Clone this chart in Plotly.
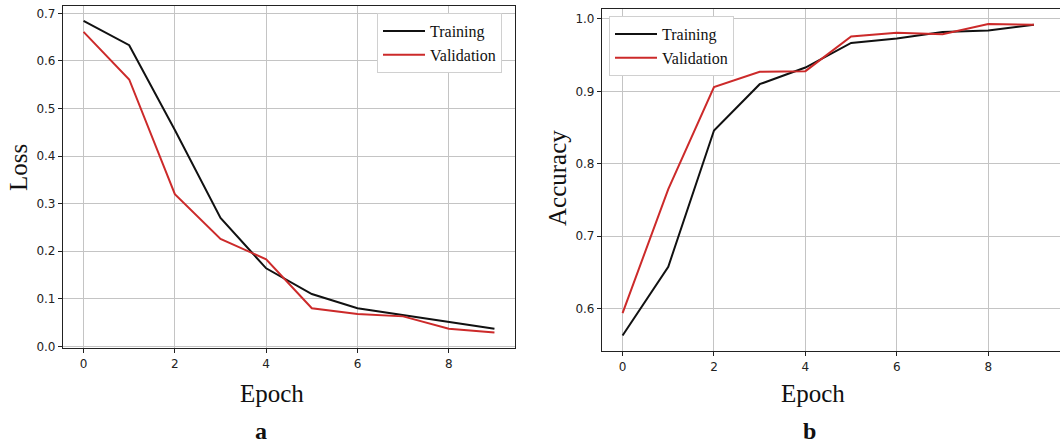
import plotly.graph_objects as go

epochs = [0, 1, 2, 3, 4, 5, 6, 7, 8, 9]
loss_train = [0.684, 0.633, 0.455, 0.270, 0.164, 0.110, 0.080, 0.066, 0.052, 0.037]
loss_val = [0.661, 0.561, 0.320, 0.226, 0.183, 0.080, 0.068, 0.063, 0.037, 0.029]
acc_train = [0.563, 0.658, 0.846, 0.910, 0.933, 0.967, 0.973, 0.982, 0.984, 0.992]
acc_val = [0.594, 0.765, 0.906, 0.927, 0.928, 0.976, 0.981, 0.979, 0.993, 0.992]
x_ticks = [0, 2, 4, 6, 8]

W, H = 1060, 447
BLACK = "#111111"
RED = "#cc2a2a"
GRID = "#c4c4c4"

def px(x):
    return x / W

def py(y):
    return 1 - y / H

fig = go.Figure()
fig.add_trace(go.Scatter(x=epochs, y=loss_train, mode="lines", name="Training",
                         line=dict(color=BLACK, width=2), xaxis="x", yaxis="y", legend="legend"))
fig.add_trace(go.Scatter(x=epochs, y=loss_val, mode="lines", name="Validation",
                         line=dict(color=RED, width=2), xaxis="x", yaxis="y", legend="legend"))
fig.add_trace(go.Scatter(x=epochs, y=acc_train, mode="lines", name="Training",
                         line=dict(color=BLACK, width=2), xaxis="x2", yaxis="y2", legend="legend2"))
fig.add_trace(go.Scatter(x=epochs, y=acc_val, mode="lines", name="Validation",
                         line=dict(color=RED, width=2), xaxis="x2", yaxis="y2", legend="legend2"))

tickfont = dict(family="DejaVu Sans", size=12, color="#222222")
common_x = dict(tickmode="array", tickvals=x_ticks, ticks="outside", ticklen=4, tickcolor="#222",
                showgrid=True, gridcolor=GRID, gridwidth=1, showline=True, linecolor="#222",
                linewidth=1.2, zeroline=False, tickfont=tickfont, automargin=False)
common_y = dict(dtick=0.1, tickformat=".1f", ticks="outside", ticklen=4, tickcolor="#222",
                showgrid=True, gridcolor=GRID, gridwidth=1, showline=True, linecolor="#222",
                linewidth=1.2, zeroline=False, tickfont=tickfont, automargin=False)

legend_font = dict(family="Liberation Serif", size=16, color="#111")

fig.update_layout(
    width=W, height=H,
    margin=dict(l=0, r=0, t=0, b=0, autoexpand=False),
    paper_bgcolor="white", plot_bgcolor="white",
    xaxis=dict(domain=[px(63), px(515)], range=[-0.45, 9.45], anchor="y", mirror=True, **common_x),
    yaxis=dict(domain=[py(348), py(6)], range=[-0.0035, 0.7155], anchor="x", mirror=True, **common_y),
    xaxis2=dict(domain=[px(602), 1.0], range=[-0.45, 9.57], anchor="y2", mirror=True, **common_x),
    yaxis2=dict(domain=[py(351), py(9)], range=[0.5416, 1.0138], anchor="x2", mirror=False, **common_y),
    legend=dict(x=px(377), y=py(13), xanchor="left", yanchor="top",
                bgcolor="white", bordercolor="#d0d0d0", borderwidth=1,
                font=legend_font, tracegroupgap=0, itemwidth=42),
    legend2=dict(x=px(609), y=py(16), xanchor="left", yanchor="top",
                 bgcolor="white", bordercolor="#d0d0d0", borderwidth=1,
                 font=legend_font, tracegroupgap=0, itemwidth=42),
    showlegend=True,
)

serif = dict(family="Liberation Serif", size=25, color="#111")
annos = [
    dict(text="Loss", x=px(18), y=py(168), textangle=-90, font=serif),
    dict(text="Epoch", x=px(272), y=py(393), font=serif),
    dict(text="<b>a</b>", x=px(261), y=py(431), font=dict(family="Liberation Serif", size=24, color="#111")),
    dict(text="Accuracy", x=px(557), y=py(178), textangle=-90, font=serif),
    dict(text="Epoch", x=px(813), y=py(393), font=serif),
    dict(text="<b>b</b>", x=px(809), y=py(431), font=dict(family="Liberation Serif", size=24, color="#111")),
]
for a in annos:
    fig.add_annotation(xref="paper", yref="paper", showarrow=False, xanchor="center", yanchor="middle", **a)

fig.write_html("out.html", config={"displayModeBar": False},
               post_script="document.body.style.margin='0';document.body.style.overflow='hidden';")
